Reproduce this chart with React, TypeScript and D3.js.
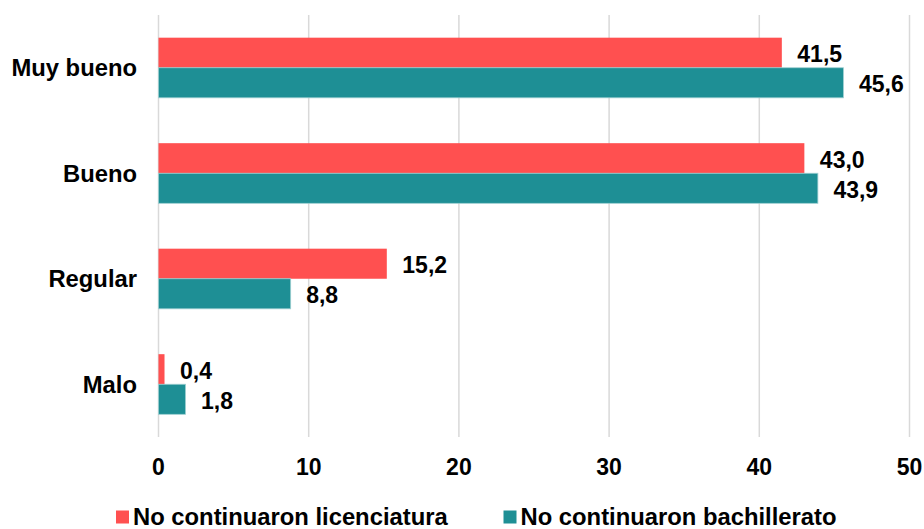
import React from "react";
import * as d3 from "d3";

const categories = ["Muy bueno", "Bueno", "Regular", "Malo"];
const seriesNames = ["No continuaron licenciatura", "No continuaron bachillerato"];
const licenciatura = [41.5, 43.0, 15.2, 0.4];
const bachillerato = [45.6, 43.9, 8.8, 1.8];
const xTicks = [0, 10, 20, 30, 40, 50];
const colors = ["#FF5050", "#1E8F95"];

const W = 924;
const H = 529;
const FONT = "'Liberation Sans', Arial, Helvetica, sans-serif";

export default function App() {
  const x = d3.scaleLinear().domain([0, 50]).range([158.5, 909.5]);
  const y = d3
    .scaleBand<string>()
    .domain(categories)
    .range([15, 437])
    .paddingInner(0.43)
    .paddingOuter(0.215);
  const sub = d3
    .scaleBand<string>()
    .domain(seriesNames)
    .range([0, y.bandwidth()]);
  const series = [licenciatura, bachillerato];
  const fmt = (v: number) => d3.format(".1f")(v).replace(".", ",");

  return (
    <svg
      width={W}
      height={H}
      style={{ position: "absolute", left: 0, top: 0, background: "#fff" }}
      fontFamily={FONT}
      fontWeight="bold"
    >
      {xTicks.map((t) => (
        <g key={t}>
          <line x1={x(t)} x2={x(t)} y1={15} y2={437} stroke="#d9d9d9" strokeWidth={1.5} />
          <text x={x(t)} y={475} textAnchor="middle" fontSize={23} fill="#000">
            {t}
          </text>
        </g>
      ))}
      {categories.map((c, i) => (
        <g key={c}>
          <text
            x={137}
            y={(y(c) as number) + y.bandwidth() / 2 + 8.5}
            textAnchor="end"
            fontSize={23.8}
            fill="#000"
          >
            {c}
          </text>
          {series.map((s, j) => {
            const y0 = (y(c) as number) + (sub(seriesNames[j]) as number);
            return (
              <g key={j}>
                <rect
                  x={x(0)}
                  y={y0}
                  width={x(s[i]) - x(0)}
                  height={sub.bandwidth()}
                  fill={colors[j]}
                  stroke={j === 1 ? "#9fd0d2" : "none"}
                  strokeWidth={j === 1 ? 0.8 : 0}
                />
                <text
                  x={x(s[i]) + 15.5}
                  y={y0 + sub.bandwidth() / 2 + 9.5}
                  fontSize={23}
                  fill="#000"
                >
                  {fmt(s[i])}
                </text>
              </g>
            );
          })}
        </g>
      ))}
      {seriesNames.map((n, j) => {
        const lx = j === 0 ? 116 : 503.5;
        return (
          <g key={n}>
            <rect x={lx} y={510.5} width={13} height={13} fill={colors[j]} />
            <text x={lx + 17} y={525} fontSize={23.8} fill="#000">
              {n}
            </text>
          </g>
        );
      })}
    </svg>
  );
}
